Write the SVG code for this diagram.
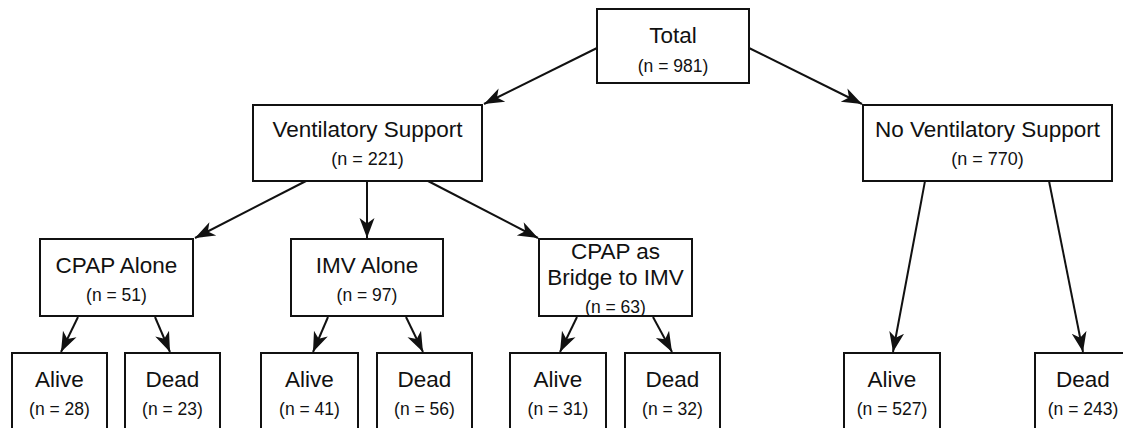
<svg xmlns="http://www.w3.org/2000/svg" width="1123" height="428" viewBox="0 0 1123 428">
<style>
.box{fill:#fff;stroke:#111;stroke-width:2}
.t{font-family:"Liberation Sans",Arial,sans-serif;font-size:22.5px;fill:#111;text-anchor:middle}
.n{font-family:"Liberation Sans",Arial,sans-serif;font-size:17.5px;fill:#111;text-anchor:middle}
.c{stroke:#111;stroke-width:2;fill:none;marker-end:url(#ah)}
</style>
<defs>
<marker id="ah" markerUnits="userSpaceOnUse" markerWidth="21" markerHeight="18" viewBox="0 0 21 18" refX="20" refY="9" orient="auto">
<path d="M0,1.5 L20,9 L0,16.5 L5.5,9 Z" fill="#111"/>
</marker>
</defs>
<rect width="1123" height="428" fill="#fff"/>
<g id="connectors">
<line class="c" x1="597" y1="48" x2="484" y2="104"/>
<line class="c" x1="749" y1="48" x2="862" y2="104"/>
<line class="c" x1="306" y1="181" x2="195" y2="238"/>
<line class="c" x1="367" y1="181" x2="367" y2="238"/>
<line class="c" x1="428" y1="181" x2="538" y2="238"/>
<line class="c" x1="78" y1="317" x2="61" y2="352"/>
<line class="c" x1="155" y1="317" x2="170" y2="352"/>
<line class="c" x1="328" y1="317" x2="313" y2="352"/>
<line class="c" x1="406" y1="317" x2="423" y2="352"/>
<line class="c" x1="577" y1="317" x2="560" y2="352"/>
<line class="c" x1="653" y1="317" x2="672" y2="352"/>
<line class="c" x1="925" y1="181" x2="893" y2="352"/>
<line class="c" x1="1049" y1="181" x2="1083" y2="352"/>
</g>
<g id="total"><rect class="box" x="597" y="9" width="152" height="74"/><text class="t" x="673" y="43">Total</text><text class="n" x="673" y="72">(n = 981)</text></g>
<g id="vent"><rect class="box" x="253" y="105" width="229" height="76"/><text class="t" x="367.5" y="137">Ventilatory Support</text><text class="n" x="367.5" y="165" style="font-size:18px">(n = 221)</text></g>
<g id="novent"><rect class="box" x="863" y="105" width="249" height="76"/><text class="t" x="987.5" y="137">No Ventilatory Support</text><text class="n" x="987.5" y="165" style="font-size:18px">(n = 770)</text></g>
<g id="cpap"><rect class="box" x="40" y="239" width="153" height="77"/><text class="t" x="116.5" y="273">CPAP Alone</text><text class="n" x="116.5" y="301">(n = 51)</text></g>
<g id="imv"><rect class="box" x="291" y="239" width="152" height="77"/><text class="t" x="367" y="273">IMV Alone</text><text class="n" x="367" y="301">(n = 97)</text></g>
<g id="bridge"><rect class="box" x="539" y="239" width="153" height="77"/><text class="t" x="615.5" y="259">CPAP as</text><text class="t" x="615.5" y="285">Bridge to IMV</text><text class="n" x="615.5" y="313">(n = 63)</text></g>
<g id="alive1"><rect class="box" x="12" y="353" width="95" height="90"/><text class="t" x="59.5" y="387">Alive</text><text class="n" x="59.5" y="415">(n = 28)</text></g>
<g id="dead1"><rect class="box" x="125" y="353" width="95" height="90"/><text class="t" x="172.5" y="387">Dead</text><text class="n" x="172.5" y="415">(n = 23)</text></g>
<g id="alive2"><rect class="box" x="261" y="353" width="97" height="90"/><text class="t" x="309.5" y="387">Alive</text><text class="n" x="309.5" y="415">(n = 41)</text></g>
<g id="dead2"><rect class="box" x="377" y="353" width="95" height="90"/><text class="t" x="424.5" y="387">Dead</text><text class="n" x="424.5" y="415">(n = 56)</text></g>
<g id="alive3"><rect class="box" x="510" y="353" width="96" height="90"/><text class="t" x="558" y="387">Alive</text><text class="n" x="558" y="415">(n = 31)</text></g>
<g id="dead3"><rect class="box" x="625" y="353" width="95" height="90"/><text class="t" x="672.5" y="387">Dead</text><text class="n" x="672.5" y="415">(n = 32)</text></g>
<g id="alive4"><rect class="box" x="844" y="353" width="96" height="90"/><text class="t" x="892" y="387">Alive</text><text class="n" x="892" y="415">(n = 527)</text></g>
<g id="dead4"><rect class="box" x="1035" y="353" width="96" height="90"/><text class="t" x="1083" y="387">Dead</text><text class="n" x="1083" y="415">(n = 243)</text></g>
</svg>
